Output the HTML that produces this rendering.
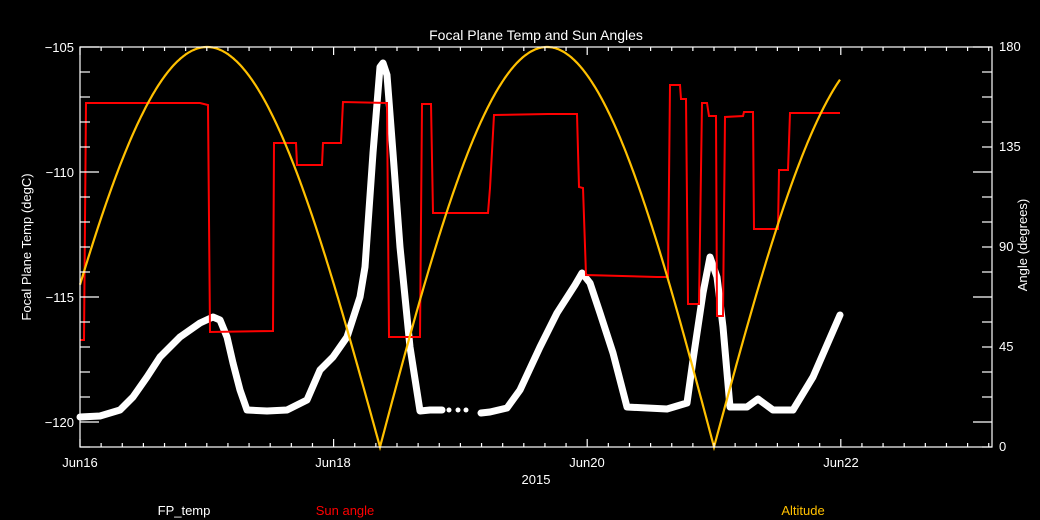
<!DOCTYPE html>
<html><head><meta charset="utf-8"><style>
html,body{margin:0;padding:0;background:#000;}
svg{display:block;}
text{font-family:"Liberation Sans",sans-serif;fill:#fff;}
</style></head><body>
<svg width="1040" height="520" viewBox="0 0 1040 520" xmlns="http://www.w3.org/2000/svg">
<rect width="1040" height="520" fill="#000"/>
<g id="series">
<polyline fill="none" stroke="#fff" stroke-width="7" stroke-linejoin="round" stroke-linecap="round" points="80,417 100,416 120,410 133,397 147,377 160,357 180,337 200,323 213,317 220,320 227,337 233,363 240,390 247,410 267,411 287,410 307,400 320,370 333,357 347,337 360,297 365,267 373,153 380,67 383,63 387,75 393,153 400,247 410,347 420,411 430,410 442,410"/>
<g fill="#fff"><circle cx="449" cy="410" r="2.5"/><circle cx="458" cy="410" r="2.5"/><circle cx="466" cy="410" r="2.5"/></g>
<polyline fill="none" stroke="#fff" stroke-width="7" stroke-linejoin="round" stroke-linecap="round" points="481,413 490,412 507,408 520,390 540,347 557,313 575,285 582,273 590,283 600,313 613,353 627,407 667,409 687,403 693,360 703,293 710,257 717,277 723,327 730,407 747,407 758,399 773,410 793,410 813,377 840,315"/>
<polyline fill="none" stroke="#ff0000" stroke-width="2" points="80,340 84,340 86,103 200,103 208,105 210,332 273,331 274,143 296,143 297,165 322,165 323,143 341,143 343,102 387,103 389,337 420,337 422,104 431,104 433,213 488,213 490,188 494,115 548,114 577,114 579,187 583,188 586,275 657,277 668,277 670,85 680,85 681,99 686,99 688,304 699,304 702,103 707,103 709,116 716,116 717,316 723,316 725,117 743,116 744,112 753,112 754,229 778,229 779,170 788,170 790,113 840,113"/>
<path id="alt" fill="none" stroke="#ffc000" stroke-width="2.2" d=""/>
</g>
<g stroke="#fff" stroke-width="1.2" fill="none" id="axes">
<rect x="80" y="47" width="912" height="400"/>
</g>
<text x="536" y="40" font-size="14" text-anchor="middle">Focal Plane Temp and Sun Angles</text>
<g font-size="13" text-anchor="end">
<text x="74" y="52">−105</text><text x="74" y="177">−110</text><text x="74" y="302">−115</text><text x="74" y="427">−120</text>
</g>
<g font-size="13" text-anchor="start">
<text x="999" y="51">180</text><text x="999" y="151">135</text><text x="999" y="251">90</text><text x="999" y="351">45</text><text x="999" y="451">0</text>
</g>
<g font-size="13" text-anchor="middle">
<text x="80" y="467">Jun16</text><text x="333" y="467">Jun18</text><text x="587" y="467">Jun20</text><text x="841" y="467">Jun22</text>
<text x="536" y="484">2015</text>
</g>
<text transform="translate(31,247) rotate(-90)" font-size="13" text-anchor="middle">Focal Plane Temp (degC)</text>
<text transform="translate(1027,245) rotate(-90)" font-size="13" text-anchor="middle">Angle (degrees)</text>
<text x="184" y="515" font-size="13" text-anchor="middle">FP_temp</text>
<text x="345" y="515" font-size="13" text-anchor="middle" style="fill:#ff0000">Sun angle</text>
<text x="803" y="515" font-size="13" text-anchor="middle" style="fill:#ffc000">Altitude</text>
<script>
(function(){
var ns="http://www.w3.org/2000/svg";
// altitude
var zeros=[34,380,714,1054];
var d="";
for(var x=80;x<=840;x+=1){
 var i=0; while(x>zeros[i+1]) i++;
 var z1=zeros[i],z2=zeros[i+1];
 var a=180*Math.abs(Math.sin(Math.PI*(x-z1)/(z2-z1)));
 var y=447-a*400/180;
 d+=(x==80?"M":"L")+x+","+y.toFixed(1);
}
document.getElementById("alt").setAttribute("d",d);
var g=document.getElementById("axes");
function ln(x1,y1,x2,y2){var l=document.createElementNS(ns,"line");l.setAttribute("x1",x1);l.setAttribute("y1",y1);l.setAttribute("x2",x2);l.setAttribute("y2",y2);g.appendChild(l);}
var day=126.8;
for(var k=0;k*day/6+80<=992;k++){
 var x=80+k*day/6; var L=(k%12==0)?8:4;
 ln(x,447,x,447-L); ln(x,47,x,47+L);
}
for(var k=0;k<=16;k++){
 var y=47+k*25; var L=((k)%5==0)?19:10;
 ln(80,y,80+L,y); ln(992,y,992-L,y);
}
})();
</script>
</svg>
</body></html>
